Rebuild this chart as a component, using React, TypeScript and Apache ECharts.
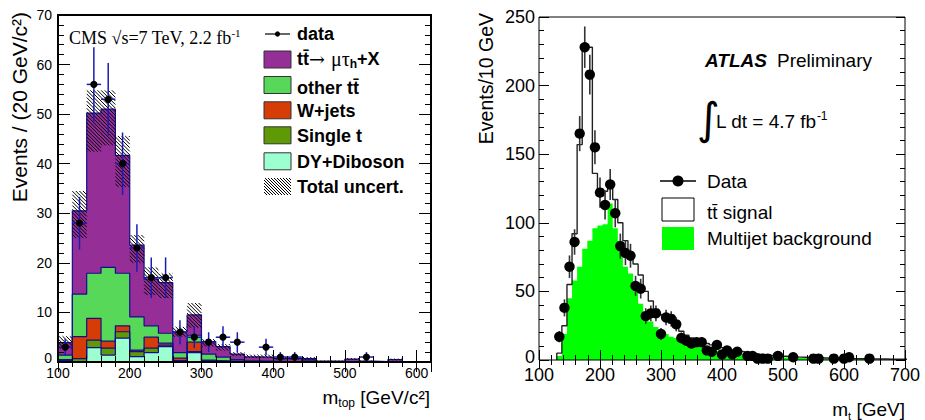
import React, { useEffect, useRef } from 'react';
import * as echarts from 'echarts';

// ---------------- Left panel (CMS) ----------------
const cmsBinWidth = 20;
const cmsBinLow = [100, 120, 140, 160, 180, 200, 220, 240, 260, 280, 300, 320, 340, 360, 380, 400, 420, 440, 460, 480, 500, 520, 540, 560, 580, 600];
const cmsDYDiboson = [0.3, 0, 2.9, 1.4, 4.8, 1.1, 1.9, 3.1, 0, 1.9, 0.2, 0.1, 0.1, 0, 0, 0, 0, 0, 0, 0, 0, 0, 0, 0, 0, 0];
const cmsSingleT = [0.2, 0.7, 1.5, 1.4, 1.3, 1.0, 0.9, 0.3, 0.3, 0.2, 0.1, 0.1, 0.1, 0.05, 0, 0, 0, 0, 0, 0, 0, 0, 0, 0, 0, 0];
const cmsWjets = [0, 4.4, 4.4, 1.4, 1.2, 0.3, 2.2, 0.4, 0.5, 1.9, 0.1, 0, 0, 0, 0, 0, 0, 0.4, 0, 0, 0, 0, 0, 0, 0, 0];
const cmsOtherTT = [0.9, 8.6, 9.1, 14.9, 10.6, 6.7, 2.3, 2.0, 1.1, 1.4, 1.2, 0.8, 0.3, 0.2, 0.2, 0.1, 0.1, 0, 0, 0, 0, 0, 0, 0, 0, 0];
const cmsTTmutau = [2.5, 16.8, 32.3, 31.9, 23.8, 14.5, 9.4, 10.2, 4.2, 4.1, 2.5, 2.1, 1.1, 0.8, 0.8, 0.6, 0.6, 0.3, 0.2, 0.2, 0.6, 0.2, 0.1, 0.5, 0, 0];
const cmsUncLow = [2.7, 25, 42.4, 43.7, 35.3, 20.0, 13.5, 12.9, 5.1, 6.9, 3.1, 2.3, 1.2, 0.8, 0.8, 0.5, 0.5, 0.5, 0.1, 0.1, 0.4, 0.1, 0, 0.3, 0, 0];
const cmsUncHigh = [5.2, 34.5, 54.8, 54.8, 45.6, 25.6, 19.1, 17.9, 7.1, 11.9, 4.6, 3.6, 2.0, 1.5, 1.5, 1.0, 1.0, 1.0, 0.3, 0.3, 0.8, 0.3, 0.2, 0.7, 0, 0];
const cmsDataMass = [110, 130, 150, 170, 190, 210, 230, 250, 270, 290, 310, 330, 350, 390, 410, 430, 530];
const cmsDataEvents = [3, 28, 56, 53, 40, 23, 17, 17, 6, 5, 4, 5, 4, 3, 1, 1, 1];
const cmsDataErr = [1.7, 5.3, 7.5, 7.3, 6.3, 4.8, 4.1, 4.1, 2.4, 2.2, 2.0, 2.2, 2.0, 1.7, 1.0, 1.0, 1.0];

// ---------------- Right panel (ATLAS) ----------------
const atlasBinStart = 129.17;
const atlasBinWidth = 8.333;
const atlasMultijet = [3, 19, 45, 58, 68, 81, 87, 96, 98, 99, 114, 96, 87, 68, 63, 51, 41, 32, 28, 24, 21, 19, 17, 16, 15, 13, 12, 11, 10, 9, 8, 7, 6, 5.5, 5, 4.5, 4, 3.6, 3.3, 3, 2.7, 2.5, 2.3, 2, 1.9, 1.8, 1.7, 1.6, 1.5, 1.4, 1.3, 1.2, 1.1, 1.0, 1.0, 0.9, 0.9, 0.8, 0.8, 0.7, 0.7, 0.6, 0.6, 0.5, 0.5, 0.5, 0.4, 0.4, 0.4];
const atlasSignal = [2, 6, 10, 34, 89, 147, 141, 40, 25, 24, 13, 21, 13, 19, 15, 19, 21, 18, 15, 13, 12, 11, 10, 8, 6, 5, 4, 4, 3.5, 3, 3, 3, 3, 2.5, 2, 2, 2, 1.6, 1.5, 1.3, 1.2, 1.0, 0.9, 0.9, 0.8, 0.7, 0.6, 0.5, 0.5, 0.4, 0.4, 0.4, 0.4, 0.4, 0.3, 0.3, 0.2, 0.2, 0.2, 0.2, 0.2, 0.2, 0.2, 0.2, 0.2, 0.1, 0.2, 0.1, 0.1];
const atlasDataMass = [133.3, 141.7, 150, 158.3, 166.7, 175, 183.3, 191.7, 200, 208.3, 216.7, 225, 233.3, 241.7, 250, 258.3, 266.7, 275, 283.3, 291.7, 300, 308.3, 316.7, 325, 333.3, 341.7, 350, 358.3, 366.7, 375, 383.3, 391.7, 400, 408.3, 416.7, 425, 441.7, 450, 458.3, 466.7, 475, 491.7, 516.7, 550, 558.3, 583.3, 600, 608.3, 641.7];
const atlasDataEvents = [17, 38, 68, 86, 165, 228, 208, 155, 122, 113, 128, 107, 83, 78, 76, 54, 52, 32, 34, 34, 19, 31, 30, 26, 16, 14, 12, 13, 13, 7, 6, 11, 4, 7, 4, 6, 3, 3, 1, 1, 1, 3, 2, 1, 1, 1, 1, 2, 1];
const atlasDataErr = [4.1, 6.2, 8.2, 9.3, 12.8, 15.1, 14.4, 12.4, 11.0, 10.6, 11.3, 10.3, 9.1, 8.8, 8.7, 7.3, 7.2, 5.7, 5.8, 5.8, 4.4, 5.6, 5.5, 5.1, 4.0, 3.7, 3.5, 3.6, 3.6, 2.6, 2.4, 3.3, 2.0, 2.6, 2.0, 2.4, 1.7, 1.7, 1.0, 1.0, 1.0, 1.7, 1.4, 1.0, 1.0, 1.0, 1.0, 1.4, 1.0];

// ---------------- styling ----------------
const SANS = "'Liberation Sans', Arial, Helvetica, sans-serif";
const SERIF = "'Liberation Serif', 'Times New Roman', serif";
const NAVY = '#10108c';
const C_TT = '#952f97';
const C_OTHER = '#58d858';
const C_W = '#d63c06';
const C_ST = '#5f9a06';
const C_DY = '#9cffd0';
const C_MJ = '#00ff00';

const LG = { left: 58, top: 15, width: 373, height: 347 };
const RG = { left: 539, top: 17, width: 366, height: 343 };

function stepPoints(lows: number[], width: number, vals: number[]) {
  const pts: number[][] = [[lows[0], 0]];
  vals.forEach((v, i) => {
    pts.push([lows[i], v]);
    pts.push([lows[i] + width, v]);
  });
  pts.push([lows[lows.length - 1] + width, 0]);
  return pts;
}

function addArrays(a: number[], b: number[]) {
  return a.map((v, i) => v + b[i]);
}

function hatchLines(x0: number, y0: number, x1: number, y1: number, step: number, color = '#000') {
  const out: any[] = [];
  const cStart = Math.ceil((x0 - y1) / step) * step;
  for (let c = cStart; c <= x1 - y0; c += step) {
    const xa = Math.max(x0, y0 + c);
    const xb = Math.min(x1, y1 + c);
    if (xb > xa) {
      out.push({ type: 'line', shape: { x1: xa, y1: xa - c, x2: xb, y2: xb - c }, style: { stroke: color, lineWidth: 1 } });
    }
  }
  return out;
}

function axisCommon(gridIndex: number, position: string, min: number, max: number, interval: number, len: number, label?: any) {
  return {
    type: 'value', gridIndex, position, min, max, interval, z: 10,
    axisLine: { show: false },
    splitLine: { show: false },
    axisTick: { show: true, inside: true, length: len, lineStyle: { color: '#000', width: 1 } },
    axisLabel: label ? label : { show: false },
  };
}

function txt(x: number, y: number, text: string, opts: any = {}, extra: any = {}) {
  return {
    type: 'text', x, y, z: 60, silent: true, ...extra,
    style: {
      text,
      fill: '#000',
      fontFamily: SANS,
      fontSize: 18,
      align: 'left', textAlign: 'left',
      verticalAlign: 'middle', textVerticalAlign: 'middle',
      ...opts,
    },
  };
}

function yLabel(fontSize: number, margin: number, lift: number) {
  return {
    show: true, margin, fontSize, color: '#000', fontFamily: SANS,
    formatter: (v: number) => (v === 0 ? '{z|0}' : String(v)),
    rich: { z: { fontSize, fontFamily: SANS, color: '#000', padding: [0, 0, lift, 0] } },
  };
}

function buildOption() {
  const cum1 = cmsDYDiboson;
  const cum2 = addArrays(cum1, cmsSingleT);
  const cum3 = addArrays(cum2, cmsWjets);
  const cum4 = addArrays(cum3, cmsOtherTT);
  const cum5 = addArrays(cum4, cmsTTmutau);

  const atlasBinLow = atlasMultijet.map((_, i) => atlasBinStart + i * atlasBinWidth);
  const atlasTotal = addArrays(atlasMultijet, atlasSignal);

  const layer = (vals: number[], color: string, name: string) => ({
    type: 'line', name, xAxisIndex: 0, yAxisIndex: 0, z: 2,
    data: stepPoints(cmsBinLow, cmsBinWidth, vals),
    symbol: 'none', showSymbol: false, silent: true, animation: false,
    lineStyle: { color: NAVY, width: 1.2 },
    itemStyle: { color },
    areaStyle: { color, opacity: 1 },
    emphasis: { disabled: true },
  });

  const series: any[] = [
    layer(cum5, C_TT, 'tt mutau'),
    layer(cum4, C_OTHER, 'other tt'),
    layer(cum3, C_W, 'W+jets'),
    layer(cum2, C_ST, 'Single t'),
    layer(cum1, C_DY, 'DY+Diboson'),
    {
      type: 'custom', name: 'Total uncert.', xAxisIndex: 0, yAxisIndex: 0, z: 5, silent: true,
      data: cmsBinLow.map((b, i) => [b, b + cmsBinWidth, cmsUncLow[i], cmsUncHigh[i]]),
      encode: { x: [0, 1], y: [2, 3] },
      renderItem: (_p: any, api: any) => {
        const a = api.coord([api.value(0), api.value(3)]);
        const b = api.coord([api.value(1), api.value(2)]);
        if (b[1] - a[1] < 0.8) return null;
        return { type: 'group', children: hatchLines(a[0], a[1], b[0], b[1], 3.6) };
      },
    },
    {
      type: 'custom', name: 'data', xAxisIndex: 0, yAxisIndex: 0, z: 6, silent: true,
      data: cmsDataMass.map((m, i) => [m, cmsDataEvents[i], cmsDataErr[i]]),
      encode: { x: 0, y: 1 },
      renderItem: (_p: any, api: any) => {
        const m = api.value(0), n = api.value(1), e = api.value(2);
        const c = api.coord([m, n]);
        const t = api.coord([m, n + e]);
        const bt = api.coord([m, Math.max(0, n - e)]);
        const l = api.coord([m - cmsBinWidth / 2, n]);
        const r = api.coord([m + cmsBinWidth / 2, n]);
        return {
          type: 'group', children: [
            { type: 'line', shape: { x1: c[0], y1: t[1], x2: c[0], y2: bt[1] }, style: { stroke: '#1c1cb4', lineWidth: 1.5 } },
            { type: 'line', shape: { x1: l[0], y1: c[1], x2: r[0], y2: c[1] }, style: { stroke: '#1c1cb4', lineWidth: 1.5 } },
            { type: 'circle', shape: { cx: c[0], cy: c[1], r: 3.6 }, style: { fill: '#000' } },
          ],
        };
      },
    },
    {
      type: 'line', name: 'Multijet background', xAxisIndex: 4, yAxisIndex: 4, z: 2,
      data: stepPoints(atlasBinLow, atlasBinWidth, atlasMultijet),
      symbol: 'none', showSymbol: false, silent: true,
      lineStyle: { width: 0, color: C_MJ, opacity: 0 },
      itemStyle: { color: C_MJ },
      areaStyle: { color: C_MJ, opacity: 1 },
      emphasis: { disabled: true },
    },
    {
      type: 'line', name: 'tt signal', xAxisIndex: 4, yAxisIndex: 4, z: 3,
      data: stepPoints(atlasBinLow, atlasBinWidth, atlasTotal),
      symbol: 'none', showSymbol: false, silent: true,
      lineStyle: { width: 1.4, color: '#222' },
      itemStyle: { color: '#222' },
      emphasis: { disabled: true },
    },
    {
      type: 'custom', name: 'Data', xAxisIndex: 4, yAxisIndex: 4, z: 6, silent: true,
      data: atlasDataMass.map((m, i) => [m, atlasDataEvents[i], atlasDataErr[i]]),
      encode: { x: 0, y: 1 },
      renderItem: (_p: any, api: any) => {
        const m = api.value(0), n = api.value(1), e = api.value(2);
        const c = api.coord([m, n]);
        const t = api.coord([m, n + e]);
        const bt = api.coord([m, Math.max(0, n - e)]);
        return {
          type: 'group', children: [
            { type: 'line', shape: { x1: c[0], y1: t[1], x2: c[0], y2: bt[1] }, style: { stroke: '#333', lineWidth: 1.6 } },
            { type: 'circle', shape: { cx: c[0], cy: c[1], r: 5.2 }, style: { fill: '#000' } },
          ],
        };
      },
    },
  ];

  const lLabelX = { show: true, margin: 4, fontSize: 14, color: '#000', fontFamily: SANS, showMaxLabel: false };
  const lLabelY = yLabel(14, 6, 9);
  const rLabelX = { show: true, margin: 6, fontSize: 18, color: '#000', fontFamily: SANS };
  const rLabelY = yLabel(18, 4, 7);

  const xAxis = [
    axisCommon(0, 'bottom', 100, 620, 100, 12, lLabelX),
    axisCommon(0, 'top', 100, 620, 100, 10),
    axisCommon(1, 'bottom', 100, 620, 20, 6),
    axisCommon(1, 'top', 100, 620, 20, 5),
    axisCommon(2, 'bottom', 100, 700, 100, 10, rLabelX),
    axisCommon(2, 'top', 100, 700, 100, 9),
    axisCommon(3, 'bottom', 100, 700, 20, 5),
    axisCommon(3, 'top', 100, 700, 20, 5),
  ];
  const yAxis = [
    axisCommon(0, 'left', 0, 70, 10, 12, lLabelY),
    axisCommon(0, 'right', 0, 70, 10, 12),
    axisCommon(1, 'left', 0, 70, 2, 6),
    axisCommon(1, 'right', 0, 70, 2, 6),
    axisCommon(2, 'left', 0, 250, 50, 10, rLabelY),
    axisCommon(2, 'right', 0, 250, 50, 9),
    axisCommon(3, 'left', 0, 250, 10, 5),
    axisCommon(3, 'right', 0, 250, 10, 5),
  ];

  const gridBase = { show: false, containLabel: false, outerBoundsMode: 'none' };
  const grid = [
    { ...gridBase, ...LG },
    { ...gridBase, ...LG },
    { ...gridBase, ...RG },
    { ...gridBase, ...RG },
  ];

  // legend rows (left)
  const boxX = 264, boxW = 27, boxH = 17;
  const legBox = (cy: number, color: string) => ({
    type: 'rect', z: 60, silent: true,
    shape: { x: boxX, y: cy - boxH / 2, width: boxW, height: boxH },
    style: { fill: color, stroke: '#333', lineWidth: 1 },
  });
  const legendTextX = 297;

  const graphic: any[] = [
    // frames
    { type: 'rect', z: 50, silent: true, shape: { x: LG.left, y: LG.top, width: LG.width, height: LG.height }, style: { fill: 'none', stroke: '#000', lineWidth: 2 } },
    { type: 'rect', z: 50, silent: true, shape: { x: RG.left, y: RG.top, width: RG.width, height: RG.height }, style: { fill: 'none', stroke: '#000', lineWidth: 1 } },

    // left titles
    txt(69, 38, '{a|CMS \u221As=7 TeV, 2.2 fb}{s|-1}', {
      rich: {
        a: { fontFamily: SERIF, fontSize: 18, fill: '#000', lineHeight: 21 },
        s: { fontFamily: SERIF, fontSize: 11, fill: '#000', lineHeight: 12, verticalAlign: 'top' },
      },
    }),
    txt(19, 12, 'Events / (20 GeV/c\u00B2)', { fontSize: 21, align: 'right', textAlign: 'right' }, { rotation: Math.PI / 2 }),
    txt(430, 397, '{a|m}{s|top}{a| [GeV/c\u00B2]}', {
      align: 'right', textAlign: 'right',
      rich: {
        a: { fontFamily: SANS, fontSize: 19, fill: '#000', lineHeight: 24 },
        s: { fontFamily: SANS, fontSize: 12, fill: '#000', lineHeight: 14, verticalAlign: 'bottom' },
      },
    }),

    // left legend
    { type: 'line', z: 60, silent: true, shape: { x1: 265, y1: 34, x2: 290, y2: 34 }, style: { stroke: '#000', lineWidth: 1.2 } },
    { type: 'circle', z: 61, silent: true, shape: { cx: 277.5, cy: 34, r: 2.6 }, style: { fill: '#000' } },
    txt(legendTextX, 34, 'data', { fontWeight: 'bold' }),
    legBox(59.5, C_TT),
    txt(legendTextX, 59, '{b|tt\u0304}{ar|\u2192 }{g|\u03BC\u03C4}{s|h}{b|+X}', {
      rich: {
        b: { fontFamily: SANS, fontSize: 18, fontWeight: 'bold', fill: '#000', lineHeight: 22 },
        ar: { fontFamily: "'DejaVu Serif', serif", fontSize: 19, fill: '#000', lineHeight: 22 },
        g: { fontFamily: SERIF, fontSize: 20, fill: '#000', lineHeight: 22 },
        s: { fontFamily: SANS, fontSize: 12, fontWeight: 'bold', fill: '#000', lineHeight: 12, verticalAlign: 'bottom' },
      },
    }),
    legBox(85, C_OTHER),
    txt(legendTextX, 88, 'other tt\u0304', { fontWeight: 'bold' }),
    legBox(110.3, C_W),
    txt(legendTextX, 110.5, 'W+jets', { fontWeight: 'bold' }),
    legBox(135.3, C_ST),
    txt(legendTextX, 135.5, 'Single t', { fontWeight: 'bold' }),
    legBox(161.3, C_DY),
    txt(legendTextX, 161.5, 'DY+Diboson', { fontWeight: 'bold' }),
    { type: 'group', z: 60, silent: true, children: hatchLines(boxX, 178, boxX + boxW, 195, 3) },
    txt(legendTextX, 186.7, 'Total uncert.', { fontWeight: 'bold' }),

    // right titles
    txt(486, 13, 'Events/10 GeV', { fontSize: 19.5, align: 'right', textAlign: 'right' }, { rotation: Math.PI / 2 }),
    txt(905, 409, '{a|m}{s|t}{a| [GeV]}', {
      align: 'right', textAlign: 'right',
      rich: {
        a: { fontFamily: SANS, fontSize: 19, fill: '#000', lineHeight: 24 },
        s: { fontFamily: SANS, fontSize: 11, fill: '#000', lineHeight: 12, verticalAlign: 'bottom' },
      },
    }),
    txt(705, 60, 'ATLAS', { fontSize: 19, fontWeight: 'bold', fontStyle: 'italic' }),
    txt(777, 60, 'Preliminary', { fontSize: 19 }),
    txt(697, 118, '\u222B', { fontSize: 44, fontFamily: "'DejaVu Sans', sans-serif" }),
    txt(716, 121, '{a|L dt = 4.7 fb}{s|-1}', {
      rich: {
        a: { fontFamily: SANS, fontSize: 19, fill: '#000', lineHeight: 22 },
        s: { fontFamily: SANS, fontSize: 12, fill: '#000', lineHeight: 12, verticalAlign: 'top' },
      },
    }),

    // right legend
    { type: 'line', z: 60, silent: true, shape: { x1: 660, y1: 181, x2: 696, y2: 181 }, style: { stroke: '#000', lineWidth: 1.5 } },
    { type: 'circle', z: 61, silent: true, shape: { cx: 678, cy: 181, r: 5.5 }, style: { fill: '#000' } },
    txt(707, 181, 'Data', { fontSize: 19 }),
    { type: 'rect', z: 60, silent: true, shape: { x: 662, y: 198, width: 32, height: 23 }, style: { fill: '#fff', stroke: '#000', lineWidth: 1 } },
    txt(707, 212, 'tt\u0304 signal', { fontSize: 19 }),
    { type: 'rect', z: 60, silent: true, shape: { x: 662, y: 227, width: 32, height: 23 }, style: { fill: C_MJ } },
    txt(707, 238, 'Multijet background', { fontSize: 19 }),
  ];

  return {
    animation: false,
    backgroundColor: '#fff',
    grid,
    xAxis,
    yAxis,
    series,
    graphic,
  };
}

export default function App() {
  const ref = useRef<HTMLDivElement>(null);
  useEffect(() => {
    const chart = echarts.init(ref.current as HTMLDivElement, null, { renderer: 'svg' });
    chart.setOption(buildOption() as any);
    return () => chart.dispose();
  }, []);
  return <div ref={ref} style={{ position: 'absolute', left: 0, top: 0, width: 925, height: 420 }} />;
}
